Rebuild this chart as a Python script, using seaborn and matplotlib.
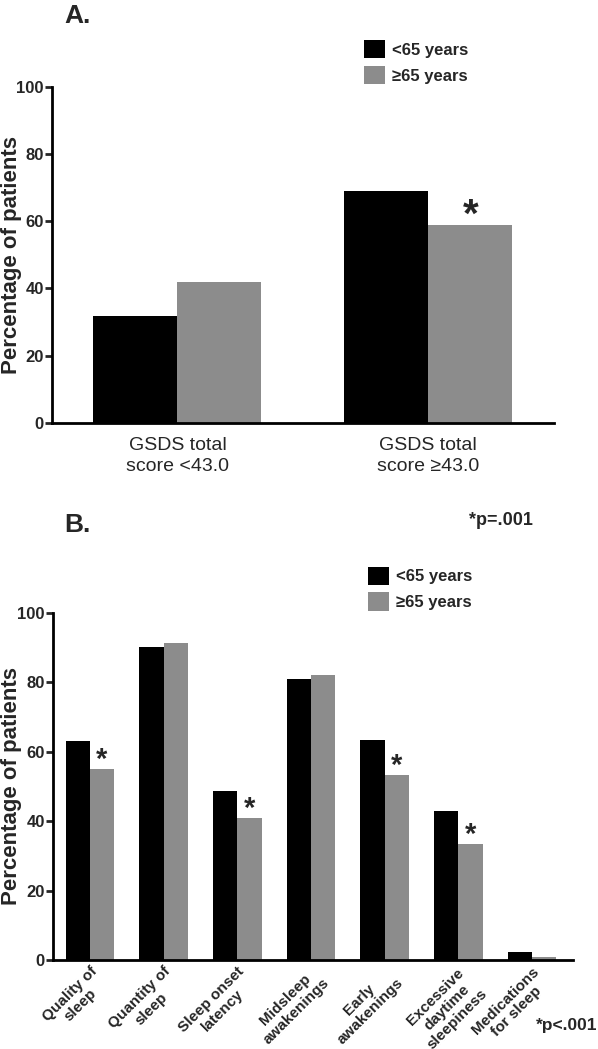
import pandas as pd
import matplotlib.pyplot as plt
import seaborn as sns
from matplotlib.patches import Patch

# panel A data
gsds_groups = ['GSDS total\nscore <43.0', 'GSDS total\nscore \u226543.0']
gsds_young = [31.7, 69.0]
gsds_old = [41.8, 58.9]
gsds_sig = [False, True]

# panel B data
symptoms = ['Quality of\nsleep', 'Quantity of\nsleep', 'Sleep onset\nlatency', 'Midsleep\nawakenings',
            'Early\nawakenings', 'Excessive\ndaytime\nsleepiness', 'Medications\nfor sleep']
symptom_young = [63.0, 90.2, 48.6, 80.8, 63.5, 42.9, 2.2]
symptom_old = [55.0, 91.3, 40.9, 82.2, 53.4, 33.4, 0.8]
symptom_sig = [True, False, True, False, True, True, False]

age_labels = ['<65 years', '\u226565 years']
colors = ['#000000', '#8c8c8c']

sns.set_style('white')
plt.rcParams['font.family'] = ['Liberation Sans', 'DejaVu Sans']


def long_df(cats, young, old):
    return pd.DataFrame({
        'cat': cats * 2,
        'age': [age_labels[0]] * len(cats) + [age_labels[1]] * len(cats),
        'pct': young + old,
    })


def style_axis(ax, label_x):
    for s in ['top', 'right']:
        ax.spines[s].set_visible(False)
    for s in ['left', 'bottom']:
        ax.spines[s].set_linewidth(2)
        ax.spines[s].set_color('black')
    ax.set_ylim(0, 100)
    ax.set_yticks([0, 20, 40, 60, 80, 100])
    ax.tick_params(axis='y', length=5, width=2, direction='out', left=True, pad=1)
    ax.tick_params(axis='x', length=0)
    for lab in ax.get_yticklabels():
        lab.set_fontweight('bold')
        lab.set_fontsize(12)
    ax.set_ylabel('Percentage of patients', fontsize=16, fontweight='bold')
    ax.yaxis.set_label_coords(label_x, 0.5)
    ax.set_xlabel('')
    for p in ax.patches:
        p.set_edgecolor('none')


def add_legend(fig, x, y):
    handles = [Patch(facecolor=c, edgecolor='none', label=l) for c, l in zip(colors, age_labels)]
    fig.legend(handles=handles, loc='upper left', bbox_to_anchor=(x, y), frameon=False,
               prop={'weight': 'bold', 'size': 12}, handlelength=1.25, handleheight=1.3,
               handletextpad=0.4, labelspacing=0.45, borderaxespad=0)


fig = plt.figure(figsize=(5.98, 10.49), dpi=100)

# Panel A
axA = fig.add_axes([0.087, 0.597, 0.839, 0.320])
dfA = long_df(gsds_groups, gsds_young, gsds_old)
sns.barplot(data=dfA, x='cat', y='pct', hue='age', palette=colors, width=0.67,
            saturation=1, legend=False, ax=axA)
axA.set_xlim(-0.5, 1.5)
style_axis(axA, -0.059)
axA.tick_params(axis='x', labelsize=14, pad=10)
for lab in axA.get_xticklabels():
    lab.set_linespacing(1.3)
for i, sig in enumerate(gsds_sig):
    if sig:
        axA.text(i + 0.67 / 4, gsds_old[i] - 0.4, '*', ha='center', va='baseline',
                 fontsize=29, fontweight='bold')
fig.text(0.108, 0.985, 'A.', fontsize=19, fontweight='bold', ha='left', va='center')
add_legend(fig, 0.598, 0.968)

# Panel B
axB = fig.add_axes([0.0886, 0.0848, 0.869, 0.331])
dfB = long_df(symptoms, symptom_young, symptom_old)
sns.barplot(data=dfB, x='cat', y='pct', hue='age', palette=colors, width=0.66,
            saturation=1, legend=False, ax=axB)
axB.set_xlim(-0.5, 6.55)
style_axis(axB, -0.059)
axB.set_xticks(range(len(symptoms)))
axB.set_xticklabels(symptoms, rotation=45, ha='right', va='top', rotation_mode='anchor',
                    multialignment='center', fontsize=11, fontweight='bold', linespacing=1.15)
axB.tick_params(axis='x', pad=3)
for i, sig in enumerate(symptom_sig):
    if sig:
        axB.text(i + 0.66 / 4, symptom_old[i] + 0.2, '*', ha='center', va='baseline',
                 fontsize=21, fontweight='bold')
fig.text(0.108, 0.500, 'B.', fontsize=19, fontweight='bold', ha='left', va='center')
fig.text(0.785, 0.504, '*p=.001', fontsize=13, fontweight='bold', ha='left', va='center')
fig.text(0.897, 0.022, '*p<.001', fontsize=12.5, fontweight='bold', ha='left', va='center')
add_legend(fig, 0.605, 0.466)

fig.savefig('out.png', dpi=100)
